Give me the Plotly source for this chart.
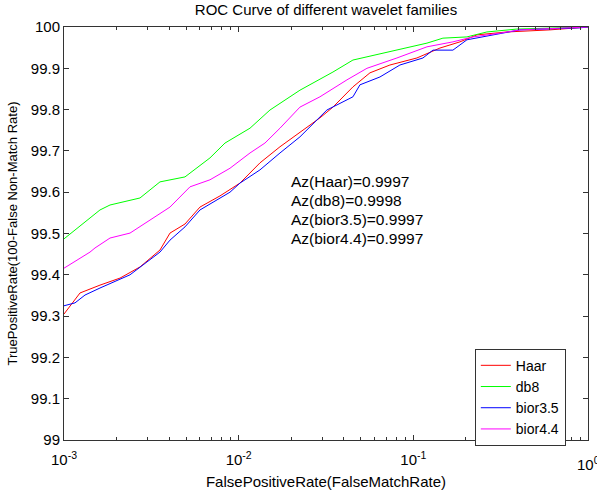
import plotly.graph_objects as go

# ---- data ----
haar_x = [1e-3, 1.235e-3, 1.607e-3, 2.092e-3, 2.723e-3, 3.544e-3, 4.044e-3, 4.928e-3, 6.005e-3,
          7.816e-3, 1.017e-2, 1.324e-2, 1.724e-2, 2.243e-2, 2.920e-2, 3.466e-2, 4.511e-2, 5.644e-2,
          7.345e-2, 0.1048, 0.1420, 0.1849, 0.2313, 0.3434, 0.6052, 1.0]
haar_y = [99.305, 99.356, 99.375, 99.392, 99.419, 99.46, 99.501, 99.523, 99.564, 99.591, 99.622,
          99.671, 99.710, 99.746, 99.780, 99.806, 99.855, 99.889, 99.908, 99.925, 99.949, 99.964,
          99.981, 99.988, 99.993, 100.0]

db8_x = [1e-3, 1.607e-3, 1.834e-3, 2.723e-3, 3.544e-3, 4.928e-3, 6.850e-3, 8.35e-3, 1.161e-2,
         1.511e-2, 2.243e-2, 3.466e-2, 4.511e-2, 6.44e-2, 8.054e-2, 0.1197, 0.1477, 0.2027,
         0.2638, 0.3917, 1.0]
db8_y = [99.487, 99.557, 99.569, 99.586, 99.625, 99.637, 99.683, 99.719, 99.755, 99.799, 99.847,
         99.891, 99.920, 99.935, 99.944, 99.961, 99.973, 99.976, 99.988, 99.995, 100.0]

bior35_x = [1e-3, 1.156e-3, 1.319e-3, 1.607e-3, 2.387e-3, 3.544e-3, 4.044e-3, 4.928e-3, 6.005e-3,
            8.917e-3, 1.017e-2, 1.324e-2, 1.724e-2, 2.243e-2, 3.201e-2, 4.511e-2, 4.947e-2,
            6.44e-2, 8.38e-2, 0.1135, 0.1295, 0.1685, 0.2027, 0.2503, 0.3434, 0.4075, 0.8987, 1.0]
bior35_y = [99.325, 99.332, 99.351, 99.368, 99.40, 99.455, 99.484, 99.516, 99.557, 99.600, 99.622,
            99.654, 99.695, 99.734, 99.799, 99.831, 99.860, 99.879, 99.908, 99.925, 99.944, 99.944,
            99.969, 99.976, 99.988, 99.993, 99.998, 100.0]

bior44_x = [1e-3, 1.409e-3, 1.505e-3, 1.834e-3, 2.387e-3, 3.107e-3, 4.044e-3, 5.264e-3, 6.850e-3,
            8.917e-3, 1.161e-2, 1.414e-2, 1.724e-2, 2.243e-2, 2.920e-2, 4.168e-2, 5.425e-2,
            8.054e-2, 0.1197, 0.1685, 0.2194, 0.3131, 0.4075, 1.0]
bior44_y = [99.416, 99.455, 99.465, 99.489, 99.501, 99.533, 99.564, 99.613, 99.630, 99.658, 99.695,
            99.719, 99.755, 99.806, 99.831, 99.872, 99.90, 99.925, 99.952, 99.964, 99.976, 99.985,
            99.993, 100.0]

series_names = ["Haar", "db8", "bior3.5", "bior4.4"]
series_colors = ["#ff0000", "#00ff00", "#0000ff", "#ff00ff"]
az_labels = ["Az(Haar)=0.9997", "Az(db8)=0.9998", "Az(bior3.5)=0.9997", "Az(bior4.4)=0.9997"]

y_ticks = [99, 99.1, 99.2, 99.3, 99.4, 99.5, 99.6, 99.7, 99.8, 99.9, 100]
y_ticktext = ["99", "99.1", "99.2", "99.3", "99.4", "99.5", "99.6", "99.7", "99.8", "99.9", "100"]
x_ticks = [1e-3, 1e-2, 1e-1, 1]
x_ticktext = ["10<sup>-3</sup>", "10<sup>-2</sup>", "10<sup>-1</sup>", "10<sup>0</sup>"]
x_minor = [m * 10.0 ** e for e in (-3, -2, -1) for m in range(2, 10)]

FONT = "Liberation Sans, Arial, sans-serif"

fig = go.Figure()
for xs, ys, name, col in zip([haar_x, db8_x, bior35_x, bior44_x],
                             [haar_y, db8_y, bior35_y, bior44_y],
                             series_names, series_colors):
    fig.add_trace(go.Scatter(x=xs, y=ys, mode="lines", name=name,
                             line=dict(color=col, width=1)))

for i, t in enumerate(az_labels):
    fig.add_annotation(x=-1.712, y=99.627 - i * 0.046, xref="x", yref="y", text=t,
                       showarrow=False, xanchor="left", yanchor="middle",
                       font=dict(family=FONT, size=15.5, color="black"))

# last x tick label (sits on the right edge, partly cut off as in the reference)
fig.add_annotation(x=0, y=0, xref="x", yref="paper", yshift=-12, text=x_ticktext[-1],
                   showarrow=False, xanchor="center", yanchor="top",
                   font=dict(family=FONT, size=15, color="black"))

axis_common = dict(showline=True, linecolor="#333333", linewidth=1, mirror="ticks",
                   ticks="inside", tickcolor="#333333", ticklen=5, showgrid=False,
                   zeroline=False, automargin=False,
                   tickfont=dict(family=FONT, size=15, color="black"))

fig.update_xaxes(type="log", range=[-3, 0], tickvals=x_ticks[:-1], ticktext=x_ticktext[:-1],
                 ticklabelstandoff=6,
                 title=dict(text="FalsePositiveRate(FalseMatchRate)", standoff=9,
                            font=dict(family=FONT, size=15, color="black")),
                 minor=dict(tickmode="array", tickvals=x_minor, ticks="inside", ticklen=3,
                            tickcolor="#333333", showgrid=False),
                 **axis_common)
fig.update_yaxes(range=[99, 100], tickvals=y_ticks, ticktext=y_ticktext,
                 ticklabelstandoff=0,
                 title=dict(text="TruePositiveRate(100-False Non-Match Rate)", standoff=10,
                            font=dict(family=FONT, size=13, color="black")),
                 **axis_common)

fig.update_layout(
    width=597, height=494,
    margin=dict(l=64, r=9, t=27, b=54),
    paper_bgcolor="white", plot_bgcolor="white",
    title=dict(text="ROC Curve of different wavelet families", x=0.5, xanchor="center",
               xref="paper", y=1, yref="container", yanchor="top", pad=dict(t=4),
               automargin=False, font=dict(family=FONT, size=15, color="black")),
    legend=dict(x=0.784, y=0.221, xanchor="left", yanchor="top", bgcolor="white",
                bordercolor="#333333", borderwidth=1, tracegroupgap=0,
                font=dict(family=FONT, size=14, color="black")),
    showlegend=True,
)

fig.write_html("out.html", config={"displayModeBar": False},
               post_script="document.body.style.margin='0';")
